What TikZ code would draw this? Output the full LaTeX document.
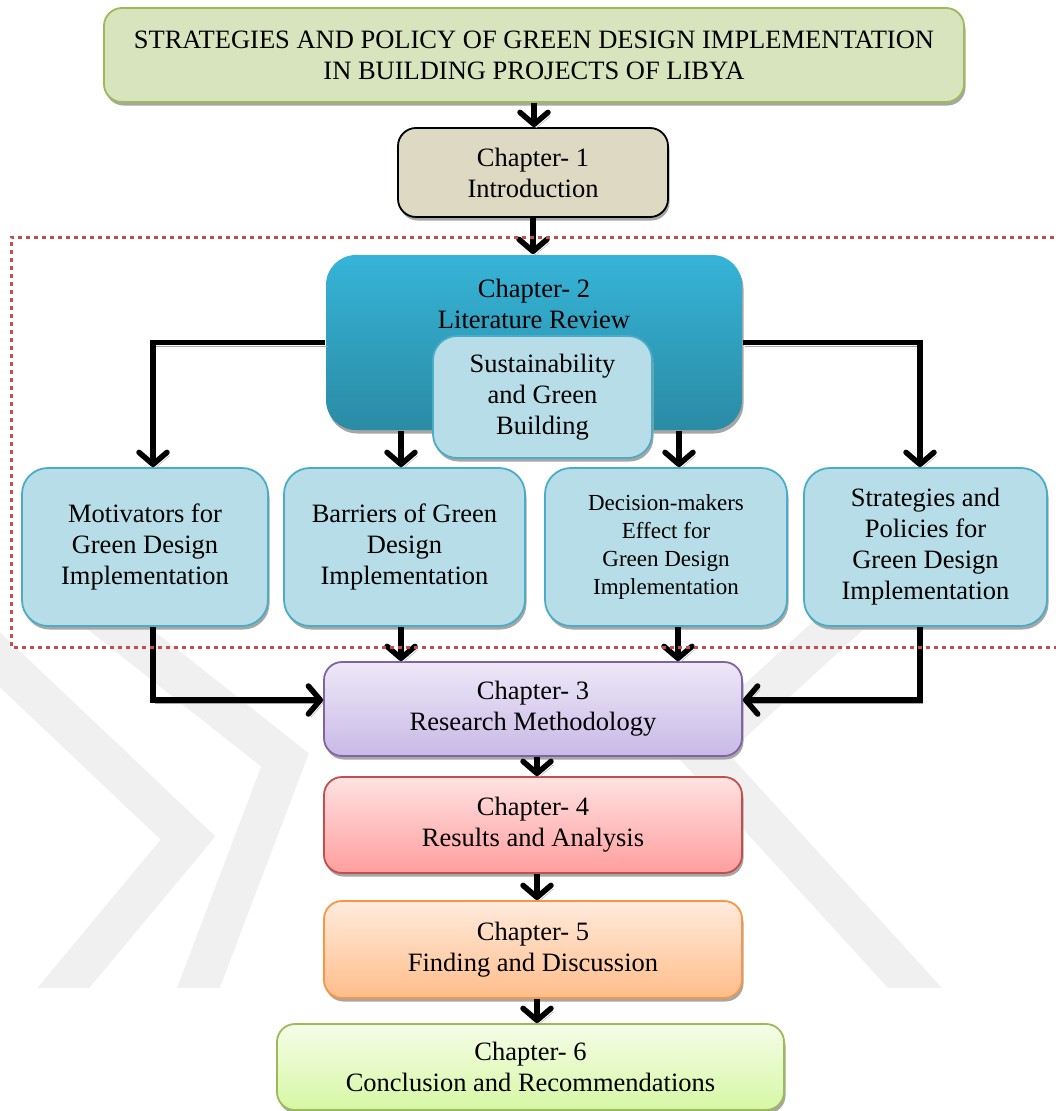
\documentclass[tikz,border=0pt]{standalone}
\usepackage{fontspec}
\setmainfont{Liberation Serif}
\usetikzlibrary{arrows.meta,shadows}

\definecolor{titlefill}{HTML}{D7E4BD}
\definecolor{greenline}{HTML}{9BBB59}
\definecolor{introfill}{HTML}{DDD9C3}
\definecolor{littop}{HTML}{36B4D8}
\definecolor{litbot}{HTML}{2A8BA4}
\definecolor{paleblue}{HTML}{B7DEE8}
\definecolor{blueline}{HTML}{4BACC6}
\definecolor{methtop}{HTML}{EEE8F8}
\definecolor{methbot}{HTML}{C8B9E6}
\definecolor{methline}{HTML}{8064A2}
\definecolor{restop}{HTML}{FFE2E2}
\definecolor{resbot}{HTML}{FF9E9E}
\definecolor{redline}{HTML}{C0504D}
\definecolor{findtop}{HTML}{FFEBDD}
\definecolor{findbot}{HTML}{FFBD8A}
\definecolor{orangeline}{HTML}{F79646}
\definecolor{conctop}{HTML}{F4FDE8}
\definecolor{concbot}{HTML}{D7F7A4}
\definecolor{wmgray}{HTML}{F0F0F0}

\begin{document}
\begin{tikzpicture}[x=1pt,y=-1pt,
  box/.style={draw, line width=1.8pt, rounded corners=18pt, inner sep=0pt,
    align=center, font=\fontsize{26.5}{31}\selectfont,
    drop shadow={shadow xshift=1.5pt, shadow yshift=-3.5pt, fill=black!35, opacity=1}},
  sidebox/.style={box, fill=paleblue, draw=blueline, rounded corners=26pt,
    minimum height=158pt},
  conn/.style={line width=5.5pt, -{Straight Barb[length=12pt,width=28pt,round]},
    preaction={draw=black!35, transform canvas={xshift=2.5pt,yshift=-3.5pt}}},
  wm/.style={line width=40pt, draw=wmgray, line join=miter},
  frame/.style={draw=redline, line width=3pt, dash pattern=on 4pt off 4pt},
]
\useasboundingbox (0,0) rectangle (1055,1111);

% faint background emblem
\begin{scope}
  \clip (-10,560) rectangle (1065,987);
  \draw[wm] (-40,622) -- (188,838) -- (45,1010);
  \draw[wm] (70,590) -- (285,760) -- (190,1010);
  \draw[wm] (890,578) -- (700,752) -- (935,1010);
\end{scope}

% title and introduction
\node[box, fill=titlefill, draw=greenline, minimum width=860pt, minimum height=94pt]
  (title) at (534,55) {STRATEGIES AND POLICY OF GREEN DESIGN IMPLEMENTATION\\IN BUILDING PROJECTS OF LIBYA};
\node[box, fill=introfill, draw=black, minimum width=270pt, minimum height=89pt]
  (ch1) at (533,172.5) {Chapter- 1\\Introduction};

% literature review block
\node[box, draw=none, top color=littop, bottom color=litbot, rounded corners=30pt,
  minimum width=416pt, minimum height=175pt] (ch2) at (534,342.5) {};
\node[font=\fontsize{26.5}{31}\selectfont, align=center, inner sep=0pt]
  (ch2label) at (534,303.5) {Chapter- 2\\Literature Review};
\node[box, fill=paleblue, draw=blueline, rounded corners=24pt,
  minimum width=219pt, minimum height=122pt] (sust) at (542.5,397)
  {Sustainability\\and Green\\Building};

% four review topics
\node[sidebox, minimum width=246pt] (mot) at (145,547)
  {Motivators for\\Green Design\\Implementation};
\node[sidebox, minimum width=241pt] (bar) at (404.5,547)
  {Barriers of Green\\Design\\Implementation};
\node[sidebox, minimum width=242pt, font=\fontsize{23}{28}\selectfont] (dec) at (666,547)
  {Decision-makers\\Effect for\\Green Design\\Implementation};
\node[sidebox, minimum width=243pt] (str) at (925.5,547)
  {Strategies and\\Policies for\\Green Design\\Implementation};

% remaining chapters
\node[box, top color=methtop, bottom color=methbot, draw=methline,
  minimum width=418pt, minimum height=94pt] (ch3) at (533,709)
  {Chapter- 3\\Research Methodology};
\node[box, top color=restop, bottom color=resbot, draw=redline,
  minimum width=418pt, minimum height=96pt] (ch4) at (533,825)
  {Chapter- 4\\Results and Analysis};
\node[box, top color=findtop, bottom color=findbot, draw=orangeline,
  minimum width=418pt, minimum height=97pt] (ch5) at (533,949.5)
  {Chapter- 5\\Finding and Discussion};
\node[box, top color=conctop, bottom color=concbot, draw=greenline,
  minimum width=507pt, minimum height=86pt] (ch6) at (530.5,1067)
  {Chapter- 6\\Conclusion and Recommendations};

% anchor points for the connectors
\coordinate (motin)  at ([xshift=8pt]mot.north);
\coordinate (motout) at ([xshift=8pt]mot.south);
\coordinate (strin)  at ([xshift=-5.5pt]str.north);
\coordinate (strout) at ([xshift=-5.5pt]str.south);
\coordinate (barin)  at ([xshift=-3.5pt]bar.north);
\coordinate (barout) at ([xshift=-3.5pt]bar.south);
\coordinate (decin)  at ([xshift=13pt]dec.north);
\coordinate (decout) at ([xshift=12pt]dec.south);
\coordinate (ch3l)   at ([yshift=9pt]ch3.west);
\coordinate (ch3r)   at ([yshift=9pt]ch3.east);
\coordinate (ch3out) at ([xshift=4pt]ch3.south);
\coordinate (ch4out) at ([xshift=4pt]ch4.south);
\coordinate (ch5out) at ([xshift=4pt]ch5.south);

% connectors
\draw[conn] (title.south) -- (title.south |- ch1.north);
\draw[conn] (ch1.south) -- (ch1.south |- ch2.north);
\draw[conn] (ch2.west) -| (motin);
\draw[conn] (ch2.east) -| (strin);
\draw[conn] (barin |- ch2.south) -- (barin);
\draw[conn] (decin |- ch2.south) -- (decin);
\draw[conn] (motout) |- (ch3l);
\draw[conn] (strout) |- (ch3r);
\draw[conn] (barout) -- (barout |- ch3.north);
\draw[conn] (decout) -- (decout |- ch3.north);
\draw[conn] (ch3out) -- (ch3out |- ch4.north);
\draw[conn] (ch4out) -- (ch4out |- ch5.north);
\draw[conn] (ch5out) -- (ch5out |- ch6.north);

% dotted frame around the literature review
\draw[frame] (1070,237) -- (11,237) -- (11,647) -- (1070,647);
\end{tikzpicture}
\end{document}
